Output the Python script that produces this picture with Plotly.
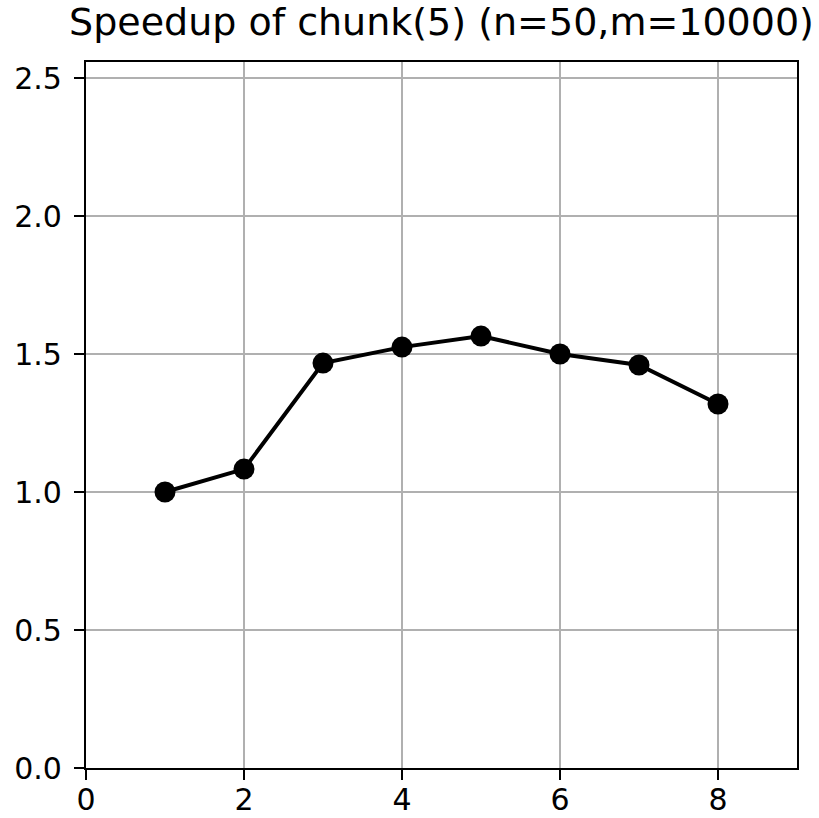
import plotly.graph_objects as go

threads = [1, 2, 3, 4, 5, 6, 7, 8]
speedup = [1.0, 1.083, 1.467, 1.525, 1.565, 1.50, 1.46, 1.319]
title_text = "Speedup of chunk(5) (n=50,m=10000)"
x_ticks = [0, 2, 4, 6, 8]
y_ticks = [0.0, 0.5, 1.0, 1.5, 2.0, 2.5]

fig = go.Figure()
fig.add_trace(go.Scatter(
    x=threads, y=speedup, mode="lines+markers",
    line=dict(color="black", width=4),
    marker=dict(color="black", size=21),
    showlegend=False,
))

axis_common = dict(
    showline=True, linecolor="black", linewidth=2.3, mirror=True,
    ticks="outside", ticklen=10, tickwidth=2.3, tickcolor="black",
    showgrid=True, gridcolor="#b0b0b0", gridwidth=2.3,
    zeroline=False, automargin=False,
    tickfont=dict(family="DejaVu Sans", size=30, color="black"),
)

fig.update_layout(
    width=819, height=818,
    margin=dict(l=86, r=22, t=62, b=50),
    paper_bgcolor="white", plot_bgcolor="white",
    title=dict(text=title_text, x=0.5, xref="paper", xanchor="center",
               y=1, yref="container", yanchor="top", pad=dict(t=8),
               font=dict(family="DejaVu Sans", size=38, color="black")),
    xaxis=dict(range=[0, 9], tickvals=x_ticks, ticklabelstandoff=-6,
               ticktext=[str(v) for v in x_ticks], **axis_common),
    yaxis=dict(range=[0, 2.558], tickvals=y_ticks, ticklabelstandoff=6,
               ticktext=[f"{v:.1f}" for v in y_ticks], **axis_common),
)

fig.write_html("out.html")
